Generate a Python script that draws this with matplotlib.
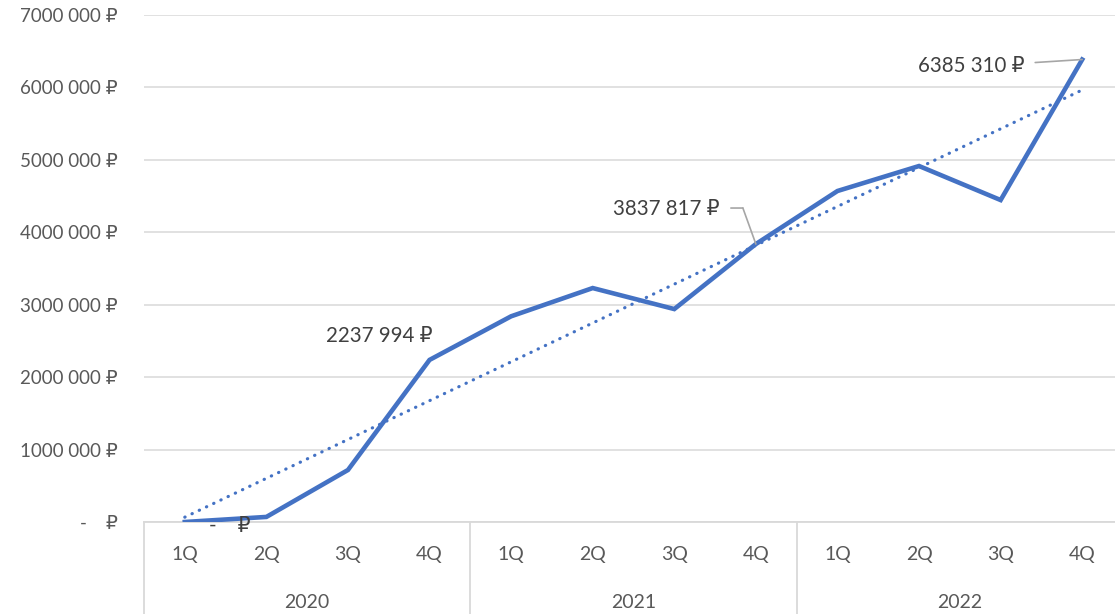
import matplotlib
matplotlib.use('Agg')
import matplotlib.pyplot as plt
import matplotlib.transforms as mtransforms
from matplotlib.ticker import FuncFormatter
import numpy as np

plt.rcParams['font.family'] = ['Lato', 'DejaVu Sans']

years = ['2020', '2021', '2022']
quarters = ['1Q', '2Q', '3Q', '4Q']
values = [0, 70000, 718000, 2237994,
          2840000, 3230000, 2940000, 3837817,
          4570000, 4915000, 4445000, 6385310]

BLUE = '#4472C4'
GRID = '#d9d9d9'
TXT = '#595959'
LBL = '#404040'


def rub(v, pos=None):
    v = int(round(v))
    if v == 0:
        return '-    \u20bd'
    return '%d %03d \u20bd' % (v // 1000, v % 1000)


fig = plt.figure(figsize=(11.15, 6.14), dpi=100)
ax = fig.add_axes([144 / 1115, 92 / 614, 979 / 1115, 507 / 614])

x = np.arange(len(values))
ax.plot(x, values, color=BLUE, lw=3.3, solid_joinstyle='miter', zorder=3)

# linear trendline (as Excel draws it)
k, b = np.polyfit(x, values, 1)
ax.plot(x, k * x + b, color=BLUE, lw=2.3, linestyle=(0, (0.1, 2.4)),
        dash_capstyle='round', zorder=2)

ax.set_xlim(-0.5, len(values) - 0.5)
ax.set_ylim(0, 7000000)
ax.set_yticks(np.arange(0, 7000001, 1000000))
ax.yaxis.set_major_formatter(FuncFormatter(rub))
ax.tick_params(axis='y', length=0, pad=19, labelsize=13.5, labelcolor=TXT)
ax.set_xticks([])
ax.grid(axis='y', color=GRID, lw=1.1)
ax.set_axisbelow(True)
for s in ['top', 'right', 'left']:
    ax.spines[s].set_visible(False)
ax.spines['bottom'].set_color(GRID)
ax.spines['bottom'].set_linewidth(1.3)

# two level category axis
tr = mtransforms.blended_transform_factory(ax.transData, ax.transAxes)
for i in x:
    ax.text(i, -0.065, quarters[i % 4], transform=tr, ha='center', va='center',
            fontsize=14, color=TXT)
for j, yr in enumerate(years):
    ax.text(j * 4 + 1.5, -0.158, yr, transform=tr, ha='center', va='center',
            fontsize=14, color=TXT)
for j in range(len(years) + 1):
    ax.plot([j * 4 - 0.5, j * 4 - 0.5], [0, -0.2], transform=tr, color=GRID,
            lw=1.3, clip_on=False)

# data labels
labels = {0: (45, -4), 3: (-50, 24), 7: (-90, 35), 11: (-111, -6)}
for i, off in labels.items():
    ax.annotate(rub(values[i]), xy=(i, values[i]), xytext=off,
                textcoords='offset pixels', ha='center', va='center',
                fontsize=14.8, color=LBL)

# leader lines
lc = '#a6a6a6'
ax.annotate('', xy=(7, values[7]), xytext=(-13, 36), textcoords='offset pixels',
            arrowprops=dict(arrowstyle='-', color=lc, lw=1.2, shrinkA=0, shrinkB=0))
ax.annotate('', xy=(7, values[7]), xytext=(-12, 0), textcoords='offset pixels',
            xycoords=mtransforms.offset_copy(ax.transData, fig=fig, x=-13, y=36, units='dots'),
            arrowprops=dict(arrowstyle='-', color=lc, lw=1.2, shrinkA=0, shrinkB=0))
ax.annotate('', xy=(11, values[11]), xytext=(-47, -3), textcoords='offset pixels',
            arrowprops=dict(arrowstyle='-', color=lc, lw=1.2, shrinkA=0, shrinkB=0))

fig.savefig('out.png', dpi=100)
